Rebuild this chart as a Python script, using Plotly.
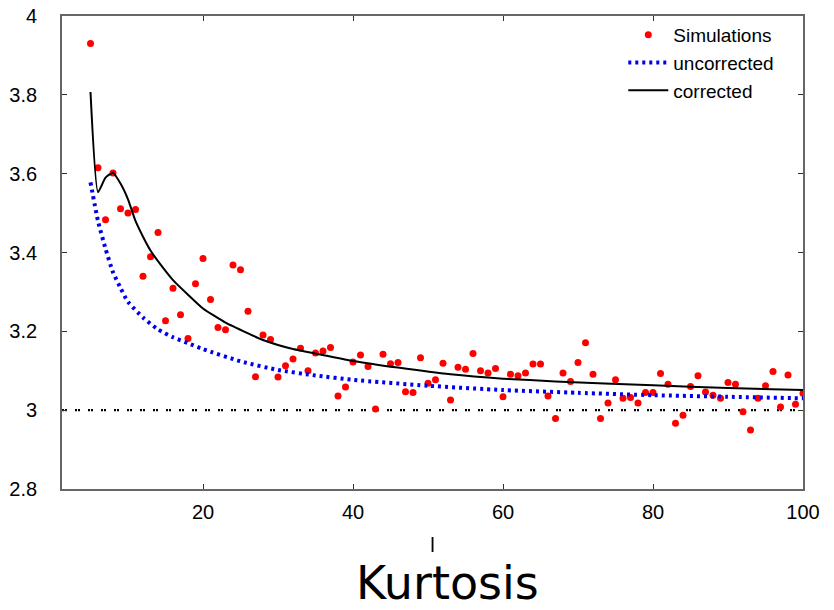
import plotly.graph_objects as go

# Simulations (l, kurtosis)
sim_l = list(range(5, 101))
sim_k = [3.930, 3.615, 3.483, 3.602, 3.511, 3.500, 3.509, 3.340, 3.389, 3.451,
         3.227, 3.309, 3.242, 3.182, 3.321, 3.385, 3.281, 3.210, 3.204, 3.368,
         3.356, 3.251, 3.085, 3.191, 3.179, 3.084, 3.113, 3.130, 3.157, 3.100,
         3.145, 3.150, 3.159, 3.036, 3.059, 3.122, 3.140, 3.111, 3.003, 3.142,
         3.118, 3.121, 3.047, 3.045, 3.133, 3.068, 3.077, 3.119, 3.026, 3.109,
         3.104, 3.144, 3.100, 3.094, 3.106, 3.034, 3.091, 3.087, 3.094, 3.117,
         3.117, 3.036, 2.979, 3.094, 3.073, 3.121, 3.171, 3.091, 2.979, 3.018,
         3.077, 3.030, 3.032, 3.018, 3.045, 3.045, 3.093, 3.066, 2.967, 2.987,
         3.060, 3.087, 3.046, 3.038, 3.030, 3.070, 3.066, 2.996, 2.950, 3.030,
         3.062, 3.098, 3.008, 3.089, 3.015, 3.043]

# Uncorrected curve
unc_l = [5, 6, 7, 8, 9, 10, 12, 14, 16, 18, 20, 25, 30, 35, 40, 50, 60, 70, 80, 90, 100]
unc_k = [3.578, 3.480, 3.410, 3.350, 3.310, 3.275, 3.235, 3.205, 3.185, 3.170, 3.155,
         3.124, 3.102, 3.088, 3.077, 3.062, 3.051, 3.044, 3.038, 3.034, 3.030]

# Corrected curve
cor_l = [5, 6, 7, 8, 9, 10, 11, 12, 13, 14, 16, 18, 20, 23, 26, 28, 32, 36, 40, 46,
         53, 60, 67, 80, 90, 100]
cor_k = [3.807, 3.553, 3.590, 3.602, 3.575, 3.535, 3.480, 3.440, 3.405, 3.378, 3.330,
         3.293, 3.258, 3.222, 3.195, 3.178, 3.155, 3.140, 3.125, 3.108, 3.091, 3.080,
         3.073, 3.063, 3.056, 3.051]

# Gaussian reference level
ref_l = [1.2, 100]
ref_k = [3.0, 3.0]

x_ticks = [20, 40, 60, 80, 100]
y_ticks = [2.8, 3.0, 3.2, 3.4, 3.6, 3.8, 4.0]
y_tick_text = ["2.8", "3", "3.2", "3.4", "3.6", "3.8", "4"]

FONT = "Liberation Sans, Arial, sans-serif"

fig = go.Figure()

fig.add_trace(go.Scatter(
    x=ref_l, y=ref_k, mode="lines", showlegend=False,
    line=dict(color="black", width=2.2, dash="2px,1px,2px,8px"),
    hoverinfo="skip"))

fig.add_trace(go.Scatter(
    x=sim_l, y=sim_k, mode="markers", name="Simulations",
    marker=dict(color="#ff0000", size=7, line=dict(width=0))))

fig.add_trace(go.Scatter(
    x=unc_l, y=unc_k, mode="lines", name="uncorrected",
    line=dict(color="#0000ee", width=4, dash="3px,4px", shape="spline", smoothing=0.6)))

fig.add_trace(go.Scatter(
    x=cor_l, y=cor_k, mode="lines", name="corrected",
    line=dict(color="black", width=2, shape="spline", smoothing=0.5)))

axis_common = dict(
    showgrid=False, zeroline=False, showline=True, linecolor="#666666", linewidth=1.8,
    mirror="ticks", ticks="inside", ticklen=5, tickwidth=1, tickcolor="#333333",
    tickfont=dict(family=FONT, size=20, color="black"), automargin=False,
)

fig.update_xaxes(range=[1.2, 100], tickvals=x_ticks, ticktext=[str(v) for v in x_ticks],
                 ticklabelstandoff=4,
                 title=dict(text="l", font=dict(family=FONT, size=20, color="black"), standoff=16),
                 **axis_common)
fig.update_yaxes(range=[2.8, 4.0], tickvals=y_ticks, ticktext=y_tick_text,
                 ticklabelstandoff=19, **axis_common)

fig.update_layout(
    width=834, height=610,
    margin=dict(l=62, r=31, t=16, b=121),
    paper_bgcolor="white", plot_bgcolor="white",
    font=dict(family=FONT, size=20, color="black"),
    legend=dict(x=0.968, y=1.0, xanchor="right", yanchor="top",
                bgcolor="rgba(0,0,0,0)", font=dict(family=FONT, size=19),
                itemwidth=40, tracegroupgap=0),
    annotations=[dict(text="Kurtosis", xref="paper", yref="paper", x=0.52, y=-0.14,
                      xanchor="center", yanchor="top", showarrow=False, borderpad=0,
                      font=dict(family="DejaVu Sans, sans-serif", size=46, color="black"))],
)

fig.write_html("out.html")
